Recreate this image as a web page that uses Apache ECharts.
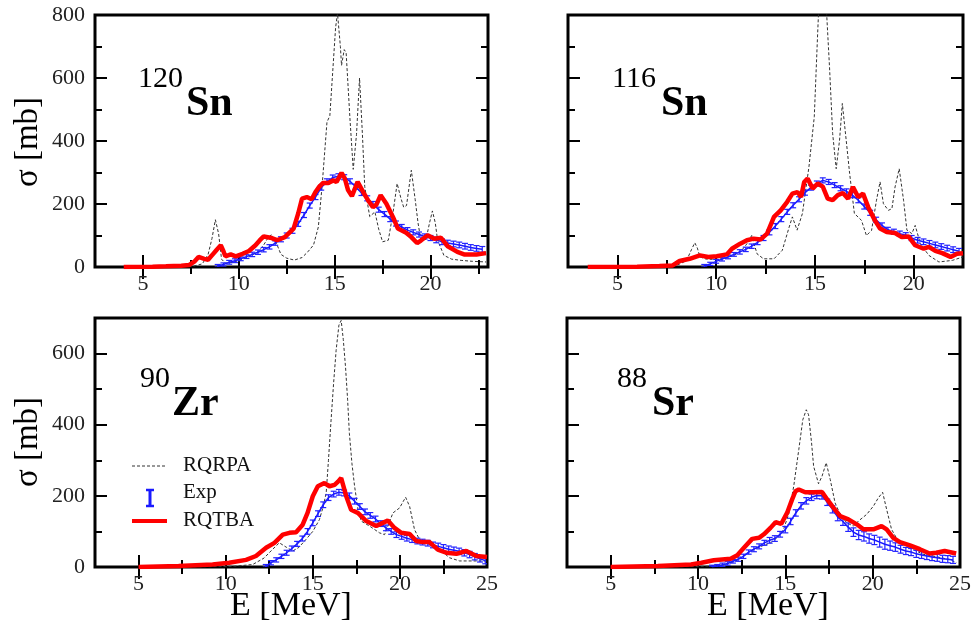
<!DOCTYPE html>
<html><head><meta charset="utf-8">
<script src="https://cdn.jsdelivr.net/npm/echarts@6/dist/echarts.min.js"></script>
<style>html,body{margin:0;padding:0;background:#fff}#c{width:974px;height:627px}</style>
</head><body><div id="c"></div>
<script>
// ---------- DATA ----------
const panelNames = ['120Sn', '116Sn', '90Zr', '88Sr'];
const massNumbers = ['120', '116', '90', '88'];
const elements = ['Sn', 'Sn', 'Zr', 'Sr'];
const xMajorTicks = [5, 10, 15, 20, 25];
const xMinorTicks = [7.5, 12.5, 17.5, 22.5];
const yMajorTicks = [0, 200, 400, 600, 800];
const yMinorTicks = [100, 300, 500, 700];
const legendNames = ['RQRPA', 'Exp', 'RQTBA'];
const xTitle = 'E [MeV]';
const yTitle = 'σ [mb]';

// [E, sigma]
const rqrpa120Sn = [[4,0],[7,0.5],[7.6,2],[8.1,10],[8.4,40],[8.6,90],[8.78,150],[8.95,105],[9.1,25],[9.3,12],[9.6,14],[10,20],[10.5,32],[11,48],[11.3,70],[11.55,95],[11.7,102],[11.9,85],[12.2,40],[12.5,28],[12.9,22],[13.3,30],[13.6,48],[13.9,70],[14.15,127],[14.35,260],[14.6,460],[14.75,480],[14.9,620],[15.05,760],[15.15,805],[15.3,700],[15.36,640],[15.5,690],[15.6,680],[15.8,470],[15.97,310],[16.14,420],[16.3,600],[16.45,420],[16.57,255],[16.83,160],[17.1,175],[17.3,120],[17.5,80],[17.8,85],[18.04,170],[18.26,265],[18.45,220],[18.6,190],[18.75,195],[19.0,307],[19.2,215],[19.35,140],[19.5,85],[19.77,88],[19.95,140],[20.1,178],[20.25,140],[20.37,85],[20.7,37],[21.1,25],[21.6,21],[22.2,18],[22.9,16]];
const rqtba120Sn = [[4,0],[5.5,1],[6.2,2],[7.0,4],[7.4,6],[7.7,18],[7.9,32],[8.2,26],[8.4,23],[8.6,37],[8.85,55],[9.06,69],[9.2,50],[9.3,34],[9.58,40],[9.84,34],[10.2,42],[10.53,51],[10.87,69],[11.1,85],[11.3,97],[11.65,93],[12.0,85],[12.4,95],[12.86,122],[13.1,170],[13.3,217],[13.55,222],[13.8,215],[14.0,238],[14.2,255],[14.4,267],[14.67,267],[14.93,275],[15.1,270],[15.36,299],[15.53,281],[15.7,244],[15.9,225],[16.2,270],[16.49,238],[16.74,212],[17.0,190],[17.18,198],[17.4,228],[17.7,201],[18.04,159],[18.3,122],[18.73,109],[19.0,95],[19.3,76],[19.5,84],[19.85,101],[20.2,90],[20.54,93],[20.9,66],[21.4,48],[21.75,40],[22.4,40],[22.9,44]];
// [E, sigma, error]
const exp120Sn = [[8.9,3,5],[9.2,8,5],[9.5,15,6],[9.8,20,6],[10.1,26,6],[10.4,33,6],[10.7,40,7],[11.0,47,7],[11.3,55,7],[11.6,64,7],[11.9,76,7],[12.2,88,8],[12.5,100,8],[12.8,115,8],[13.1,137,8],[13.4,165,8],[13.7,195,8],[14.0,222,8],[14.3,252,8],[14.6,272,8],[14.9,284,8],[15.2,288,8],[15.5,285,8],[15.8,272,8],[16.1,255,8],[16.4,235,8],[16.7,218,8],[17.0,200,8],[17.3,182,8],[17.6,168,8],[17.9,152,8],[18.2,138,8],[18.5,127,8],[18.8,117,8],[19.1,110,8],[19.4,103,8],[19.7,97,8],[20.0,92,8],[20.3,86,9],[20.6,80,9],[20.9,76,9],[21.2,73,9],[21.5,70,9],[21.8,66,9],[22.1,62,9],[22.4,59,9],[22.7,56,9]];

const rqrpa116Sn = [[4,0],[7,0.5],[8.0,5],[8.5,20],[8.75,55],[8.92,77],[9.05,60],[9.18,32],[9.5,25],[10,24],[10.5,28],[11,40],[11.4,60],[11.56,74],[11.8,100],[12.07,42],[12.4,26],[12.93,26],[13.35,53],[13.7,127],[13.86,159],[14.1,117],[14.37,170],[14.7,318],[14.97,477],[15.14,741],[15.25,900],[15.5,950],[15.6,800],[15.74,636],[15.9,424],[16.08,312],[16.25,403],[16.39,519],[16.59,400],[16.76,297],[17.0,170],[17.36,148],[17.61,100],[17.87,116],[18.12,212],[18.3,270],[18.47,201],[18.72,180],[18.9,185],[19.06,254],[19.27,312],[19.49,212],[19.66,117],[19.91,106],[20.08,132],[20.34,74],[20.77,37],[21.28,16],[21.96,21],[22.5,32]];
const rqtba116Sn = [[3.5,0],[6,1],[7.13,3],[7.8,5],[8.15,19],[8.66,26],[9.18,37],[9.6,32],[10.03,34],[10.54,40],[10.8,58],[11.22,74],[11.56,85],[11.9,90],[12.24,87],[12.58,106],[12.93,159],[13.27,180],[13.6,207],[13.86,233],[14.12,238],[14.3,222],[14.46,270],[14.63,281],[14.89,249],[15.14,265],[15.4,255],[15.65,217],[15.9,212],[16.16,228],[16.42,235],[16.68,217],[16.93,254],[17.19,222],[17.44,233],[17.7,190],[18.04,148],[18.3,122],[18.64,111],[19.06,108],[19.4,95],[19.74,97],[20.08,69],[20.51,58],[20.77,64],[21.1,51],[21.45,44],[21.87,32],[22.2,42],[22.5,44]];
const exp116Sn = [[9.4,3,5],[9.7,10,5],[10.0,18,6],[10.3,25,6],[10.6,32,6],[10.9,40,6],[11.2,48,7],[11.5,56,7],[11.8,66,7],[12.1,78,7],[12.4,92,8],[12.7,110,8],[13.0,130,8],[13.3,152,8],[13.6,175,8],[13.9,196,8],[14.2,215,8],[14.5,236,8],[14.8,252,8],[15.1,265,8],[15.4,275,8],[15.7,270,8],[16.0,260,8],[16.3,250,8],[16.6,240,8],[16.9,228,8],[17.2,212,8],[17.5,192,8],[17.8,172,8],[18.1,150,8],[18.4,132,8],[18.7,118,8],[19.0,112,8],[19.3,106,8],[19.6,101,8],[19.9,92,8],[20.2,85,9],[20.5,80,9],[20.8,75,9],[21.1,70,9],[21.4,65,9],[21.7,60,9],[22.0,55,9],[22.3,50,9]];

const rqrpa90Zr = [[5,0],[9,0.5],[10.5,2],[11.55,7],[12.2,25],[12.7,50],[13.08,68],[13.5,55],[13.85,45],[14.2,55],[14.6,77],[15.0,100],[15.38,133],[15.6,170],[15.77,208],[15.9,300],[16.05,413],[16.2,520],[16.34,609],[16.5,680],[16.63,693],[16.75,640],[16.88,562],[17.0,470],[17.1,376],[17.25,290],[17.4,227],[17.6,160],[17.78,129],[18.26,115],[18.83,96],[19.12,91],[19.35,120],[19.6,152],[19.98,166],[20.2,185],[20.33,196],[20.56,170],[20.84,105],[21.13,77],[21.7,63],[22.28,49],[22.85,26],[23.43,17],[25,17]];
const rqtba90Zr = [[5,0],[7.3,3],[9.25,7],[10.2,12],[11.17,20],[11.74,31],[12.32,54],[12.8,68],[13.28,91],[13.66,96],[14.04,98],[14.42,119],[14.7,152],[15.0,199],[15.29,227],[15.67,236],[15.96,227],[16.25,231],[16.45,240],[16.63,250],[16.92,199],[17.2,161],[17.59,152],[18.07,129],[18.64,115],[19.02,124],[19.31,131],[19.69,110],[20.08,96],[20.56,93],[20.94,73],[21.32,70],[21.7,70],[22.18,49],[22.66,40],[23.24,37],[23.81,45],[24.39,31],[25,28]];
const exp90Zr = [[12.3,2,5],[12.6,12,6],[12.9,20,6],[13.2,30,6],[13.5,40,7],[13.8,52,7],[14.1,65,7],[14.4,80,7],[14.7,100,8],[15.0,124,8],[15.3,150,8],[15.6,175,8],[15.9,195,8],[16.2,205,8],[16.5,210,8],[16.8,208,8],[17.1,200,8],[17.4,185,8],[17.7,170,8],[18.0,155,8],[18.3,145,8],[18.6,135,8],[18.9,122,8],[19.2,110,8],[19.5,100,8],[19.8,91,8],[20.1,86,8],[20.4,81,8],[20.7,77,8],[21.0,73,8],[21.3,70,8],[21.6,67,8],[21.9,62,8],[22.2,58,9],[22.5,54,9],[22.8,50,9],[23.1,47,9],[23.4,44,9],[23.7,40,9],[24.0,35,9],[24.3,29,9],[24.6,23,9],[24.9,18,9]];

const rqrpa88Sr = [[5,0],[9,0.5],[10.5,2],[11.5,6],[12.3,20],[13.0,45],[13.6,58],[14.15,68],[14.6,85],[14.9,106],[15.2,150],[15.48,227],[15.77,330],[16.0,414],[16.2,442],[16.33,428],[16.5,350],[16.62,283],[16.9,234],[17.1,255],[17.34,293],[17.57,246],[17.85,180],[18.14,148],[18.52,124],[18.9,115],[19.18,129],[19.66,148],[20.04,171],[20.32,194],[20.57,210],[20.8,162],[21.08,106],[21.46,73],[22.12,54],[22.88,36],[23.64,29],[24.4,21],[24.8,12]];
const rqtba88Sr = [[5,0],[7.7,3],[9.6,7],[10.2,12],[10.9,19],[11.87,23],[12.25,33],[12.63,54],[13.1,79],[13.49,82],[13.77,92],[14.15,110],[14.44,126],[14.76,121],[15.1,152],[15.39,190],[15.58,213],[15.77,218],[16.14,210],[16.62,210],[17.1,211],[17.47,185],[17.76,166],[18.14,143],[18.61,134],[19.09,120],[19.47,106],[20.04,106],[20.51,115],[20.8,106],[21.18,82],[21.56,70],[22.13,61],[22.7,50],[23.26,38],[23.64,40],[24.12,45],[24.78,38]];
const exp88Sr = [[10.8,1,4],[11.1,3,4],[11.4,6,5],[11.7,10,5],[12.0,16,5],[12.3,22,6],[12.6,30,6],[12.9,42,6],[13.2,50,7],[13.5,58,7],[13.8,68,7],[14.1,75,8],[14.4,80,8],[14.7,92,8],[15.0,105,9],[15.3,128,9],[15.6,152,9],[15.9,172,9],[16.2,186,9],[16.5,196,9],[16.8,201,9],[17.1,200,9],[17.4,182,9],[17.7,162,10],[18.0,140,10],[18.3,128,11],[18.6,112,12],[18.9,98,12],[19.2,90,13],[19.5,86,13],[19.8,80,13],[20.1,76,13],[20.4,70,14],[20.7,64,14],[21.0,60,13],[21.3,56,12],[21.6,50,11],[21.9,45,10],[22.2,42,10],[22.5,37,10],[22.8,34,10],[23.1,31,10],[23.4,28,10],[23.7,26,10],[24.0,23,10],[24.3,22,10],[24.6,20,10]];

const rqrpaAll = [rqrpa120Sn, rqrpa116Sn, rqrpa90Zr, rqrpa88Sr];
const rqtbaAll = [rqtba120Sn, rqtba116Sn, rqtba90Zr, rqtba88Sr];
const expAll = [exp120Sn, exp116Sn, exp90Zr, exp88Sr];
const xMin = [2.5, 2.5, 2.5, 2.5];
const xMax = [23, 22.5, 25, 25];
const yMax = [800, 800, 700, 700];

// ---------- LAYOUT / STYLE ----------
const FONT = "'Liberation Serif','Times New Roman',serif";
const grids = [
  {left: 95, top: 15, width: 393, height: 252},
  {left: 568, top: 15, width: 395, height: 252},
  {left: 95, top: 318, width: 392, height: 249},
  {left: 567, top: 318, width: 395, height: 249}
];
const showYLabels = [true, false, true, false];

const chart = echarts.init(document.getElementById('c'), null, {renderer: 'canvas'});

const xAxes = [], yAxes = [], series = [];
function inRange(arr, lo, hi) { return arr.filter(v => v >= lo && v <= hi); }

grids.forEach((g, i) => {
  const xmj = inRange(xMajorTicks, xMin[i] + 0.01, xMax[i] - 0.01);
  const xmjLab = inRange(xMajorTicks, xMin[i], xMax[i]);
  const xmn = inRange(xMinorTicks, xMin[i] + 0.01, xMax[i] - 0.01);
  const ymj = inRange(yMajorTicks, 0.01, yMax[i] - 0.01);
  const ymn = inRange(yMinorTicks, 0.01, yMax[i] - 0.01);
  const ymjLab = inRange(yMajorTicks, 0, yMax[i]);
  const xBase = {type: 'value', gridIndex: i, min: xMin[i], max: xMax[i], splitLine: {show: false}, axisLine: {show: false}};
  const yBase = {type: 'value', gridIndex: i, min: 0, max: yMax[i], splitLine: {show: false}, axisLine: {show: false}};
  const tickStyle = {color: '#000', width: 2};
  [['bottom', true], ['top', false]].forEach(([pos, lab]) => {
    xAxes.push(Object.assign({}, xBase, {position: pos,
      axisTick: {show: true, inside: true, length: 12, customValues: xmj, lineStyle: tickStyle},
      axisLabel: lab ? {show: true, customValues: xmjLab, showMaxLabel: true, fontFamily: FONT, fontSize: 22, color: '#222', margin: 6} : {show: false}}));
    xAxes.push(Object.assign({}, xBase, {position: pos,
      axisTick: {show: true, inside: true, length: 7, customValues: xmn, lineStyle: tickStyle},
      axisLabel: {show: false}}));
  });
  [['left', showYLabels[i]], ['right', false]].forEach(([pos, lab]) => {
    yAxes.push(Object.assign({}, yBase, {position: pos,
      axisTick: {show: true, inside: true, length: 12, customValues: ymj, lineStyle: tickStyle},
      axisLabel: lab ? {show: true, customValues: ymjLab, fontFamily: FONT, fontSize: 22, color: '#222', margin: 10} : {show: false}}));
    yAxes.push(Object.assign({}, yBase, {position: pos,
      axisTick: {show: true, inside: true, length: 7, customValues: ymn, lineStyle: tickStyle},
      axisLabel: {show: false}}));
  });
  const xi = i * 4, yi = i * 4;
  series.push({type: 'line', name: legendNames[0], xAxisIndex: xi, yAxisIndex: yi, data: rqrpaAll[i],
    showSymbol: false, symbol: 'none', clip: true, z: 2,
    lineStyle: {color: '#333', width: 1, type: [3, 2]}});
  series.push({type: 'line', name: legendNames[1], xAxisIndex: xi, yAxisIndex: yi,
    data: expAll[i].map(d => [d[0], d[1]]), showSymbol: false, symbol: 'none', clip: true, z: 3,
    lineStyle: {color: '#1a1aff', width: 1.5}});
  series.push({type: 'custom', name: legendNames[1] + ' err', xAxisIndex: xi, yAxisIndex: yi,
    data: expAll[i], clip: true, z: 3, encode: {x: 0, y: 1},
    renderItem: function (params, api) {
      const x = api.value(0), y = api.value(1), e = api.value(2);
      const lo = api.coord([x, Math.max(0, y - e)]), hi = api.coord([x, y + e]);
      const w = 3, st = {stroke: '#2222ff', lineWidth: 1.2};
      return {type: 'group', children: [
        {type: 'line', shape: {x1: lo[0], y1: lo[1], x2: hi[0], y2: hi[1]}, style: st},
        {type: 'line', shape: {x1: lo[0] - w, y1: lo[1], x2: lo[0] + w, y2: lo[1]}, style: st},
        {type: 'line', shape: {x1: hi[0] - w, y1: hi[1], x2: hi[0] + w, y2: hi[1]}, style: st}
      ]};
    }});
  series.push({type: 'line', name: legendNames[2], xAxisIndex: xi, yAxisIndex: yi, data: rqtbaAll[i],
    showSymbol: false, symbol: 'none', clip: true, z: 4,
    lineStyle: {color: '#ff0000', width: 4.5}});
});

// annotations
const labelPos = [
  {mx: 138, my: 79, ex: 186, ey: 104},
  {mx: 612, my: 79, ex: 661, ey: 104},
  {mx: 140, my: 379, ex: 172, ey: 404},
  {mx: 617, my: 379, ex: 652, ey: 404}
];
const graphic = [];
labelPos.forEach((p, i) => {
  graphic.push({type: 'text', x: p.mx, y: p.my, style: {text: massNumbers[i], font: '30px ' + FONT, fill: '#000', textAlign: 'left', textVerticalAlign: 'middle'}});
  graphic.push({type: 'text', x: p.ex, y: p.ey, style: {text: elements[i], font: 'bold 42px ' + FONT, fill: '#000', textAlign: 'left', textVerticalAlign: 'middle'}});
});
// axis titles
[142, 442].forEach(cy => {
  graphic.push({type: 'text', x: 28, y: cy, rotation: Math.PI / 2, style: {text: yTitle, font: '33px ' + FONT, fill: '#000', textAlign: 'center', textVerticalAlign: 'middle'}});
});
[291, 768].forEach(cx => {
  graphic.push({type: 'text', x: cx, y: 606, style: {text: xTitle, font: '34px ' + FONT, fill: '#000', textAlign: 'center', textVerticalAlign: 'middle'}});
});
// legend
graphic.push({type: 'line', shape: {x1: 132, y1: 466, x2: 167, y2: 466}, style: {stroke: '#333', lineWidth: 1, lineDash: [3, 2]}});
graphic.push({type: 'line', shape: {x1: 150, y1: 490, x2: 150, y2: 506}, style: {stroke: '#1a1aff', lineWidth: 3}});
graphic.push({type: 'line', shape: {x1: 146, y1: 490, x2: 154, y2: 490}, style: {stroke: '#1a1aff', lineWidth: 2.5}});
graphic.push({type: 'line', shape: {x1: 146, y1: 506, x2: 154, y2: 506}, style: {stroke: '#1a1aff', lineWidth: 2.5}});
graphic.push({type: 'line', shape: {x1: 132, y1: 521, x2: 167, y2: 521}, style: {stroke: '#ff0000', lineWidth: 4}});
[[legendNames[0], 465], [legendNames[1], 492], [legendNames[2], 520]].forEach(([t, y]) => {
  graphic.push({type: 'text', x: 183, y: y, style: {text: t, font: '21px ' + FONT, fill: '#111', textAlign: 'left', textVerticalAlign: 'middle'}});
});

chart.setOption({
  animation: false,
  backgroundColor: '#fff',
  grid: grids.map(g => Object.assign({show: true, borderColor: '#000', borderWidth: 3, backgroundColor: 'transparent'}, g)),
  xAxis: xAxes,
  yAxis: yAxes,
  series: series,
  graphic: graphic
});
</script></body></html>
